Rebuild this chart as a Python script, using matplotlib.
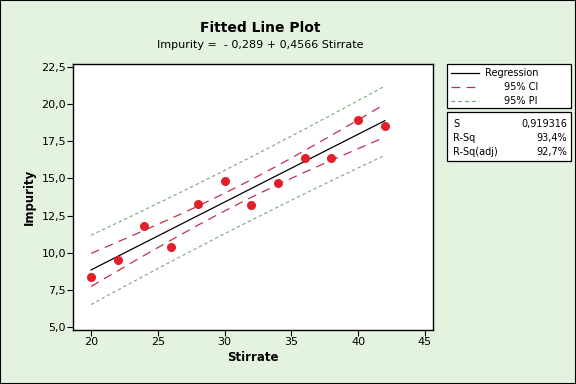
import numpy as np
import matplotlib
matplotlib.use('Agg')
import matplotlib.pyplot as plt
from matplotlib.patches import Rectangle
from matplotlib.lines import Line2D

plt.rcParams['font.family'] = ['DejaVu Sans']

# data
stirrate = [20, 22, 24, 26, 28, 30, 32, 34, 36, 38, 40, 42]
impurity = [8.4, 9.5, 11.8, 10.4, 13.3, 14.8, 13.2, 14.7, 16.4, 16.4, 18.9, 18.5]

# fit summary as printed on the chart
intercept = -0.289
slope = 0.4566
s_value = 0.919316
t_crit = 2.228  # t(0.975, df=10)
stats_names = ['S', 'R-Sq', 'R-Sq(adj)']
stats_values = ['0,919316', '93,4%', '92,7%']

yticks = [5.0, 7.5, 10.0, 12.5, 15.0, 17.5, 20.0, 22.5]
xticks = [20, 25, 30, 35, 40, 45]

bg = '#E3F3DF'
ci_color = '#C0304A'
pi_color = '#78A878'

x = np.array(stirrate, dtype=float)
n = len(x)
sxx = ((x - x.mean()) ** 2).sum()
xf = np.linspace(x.min(), x.max(), 60)
yf = intercept + slope * xf
se_fit = s_value * np.sqrt(1 / n + (xf - x.mean()) ** 2 / sxx)
se_pred = s_value * np.sqrt(1 + 1 / n + (xf - x.mean()) ** 2 / sxx)

fig = plt.figure(figsize=(5.76, 3.84), dpi=100, facecolor=bg)
ax = fig.add_axes([73 / 576, 1 - 330 / 384, 360 / 576, 266 / 384])
ax.set_facecolor('white')

ax.plot(xf, yf, color='black', lw=0.9)
ax.plot(xf, yf + t_crit * se_fit, color=ci_color, lw=0.9, dashes=(7, 5))
ax.plot(xf, yf - t_crit * se_fit, color=ci_color, lw=0.9, dashes=(7, 5))
ax.plot(xf, yf + t_crit * se_pred, color=pi_color, lw=0.8, dashes=(3, 2.5))
ax.plot(xf, yf - t_crit * se_pred, color=pi_color, lw=0.8, dashes=(3, 2.5))
ax.plot(stirrate, impurity, 'o', color='#E0202A', ms=5.5, mec='#E0202A')

ax.set_xlim(18.65, 45.6)
ax.set_ylim(4.8, 22.7)
ax.set_xticks(xticks)
ax.set_yticks(yticks)
ax.set_yticklabels([f'{v:.1f}'.replace('.', ',') for v in yticks])
ax.tick_params(labelsize=8, length=4, width=0.8, pad=1)
for sp in ax.spines.values():
    sp.set_linewidth(1.0)
ax.set_xlabel('Stirrate', fontsize=8.5, fontweight='bold', labelpad=3)
ax.set_ylabel('Impurity', fontsize=8.5, fontweight='bold', labelpad=4)

fig.text(260 / 576, 1 - 28 / 384, 'Fitted Line Plot', ha='center', va='center',
         fontsize=10, fontweight='bold')
fig.text(260 / 576, 1 - 45 / 384, 'Impurity =  - 0,289 + 0,4566 Stirrate', ha='center',
         va='center', fontsize=8)

# legend box
def fx(px):
    return px / 576

def fy(py):
    return 1 - py / 384

fig.patches.append(Rectangle((fx(447), fy(108)), fx(124), 44 / 384, transform=fig.transFigure,
                             facecolor='white', edgecolor='black', lw=0.9))
fig.patches.append(Rectangle((fx(447), fy(161)), fx(124), 49 / 384, transform=fig.transFigure,
                             facecolor='white', edgecolor='black', lw=0.9))

rows = [('Regression', 'black', None, 73), ('95% CI', ci_color, (7, 5), 87),
        ('95% PI', pi_color, (3, 2.5), 101)]
for label, col, ds, py in rows:
    ln = Line2D([fx(451), fx(479)], [fy(py), fy(py)], transform=fig.transFigure, color=col, lw=0.9)
    if ds:
        ln.set_dashes(ds)
    fig.lines.append(ln)
    fig.text(fx(538), fy(py), label, ha='right', va='center', fontsize=7)

for name, val, py in zip(stats_names, stats_values, [124, 138, 152]):
    fig.text(fx(453), fy(py), name, ha='left', va='center', fontsize=7)
    fig.text(fx(567), fy(py), val, ha='right', va='center', fontsize=7)

# outer frame
fig.patches.append(Rectangle((0, 0), 1, 1, transform=fig.transFigure, fill=False,
                             edgecolor='black', lw=1.5))

fig.savefig('out.png', dpi=100, facecolor=bg)
